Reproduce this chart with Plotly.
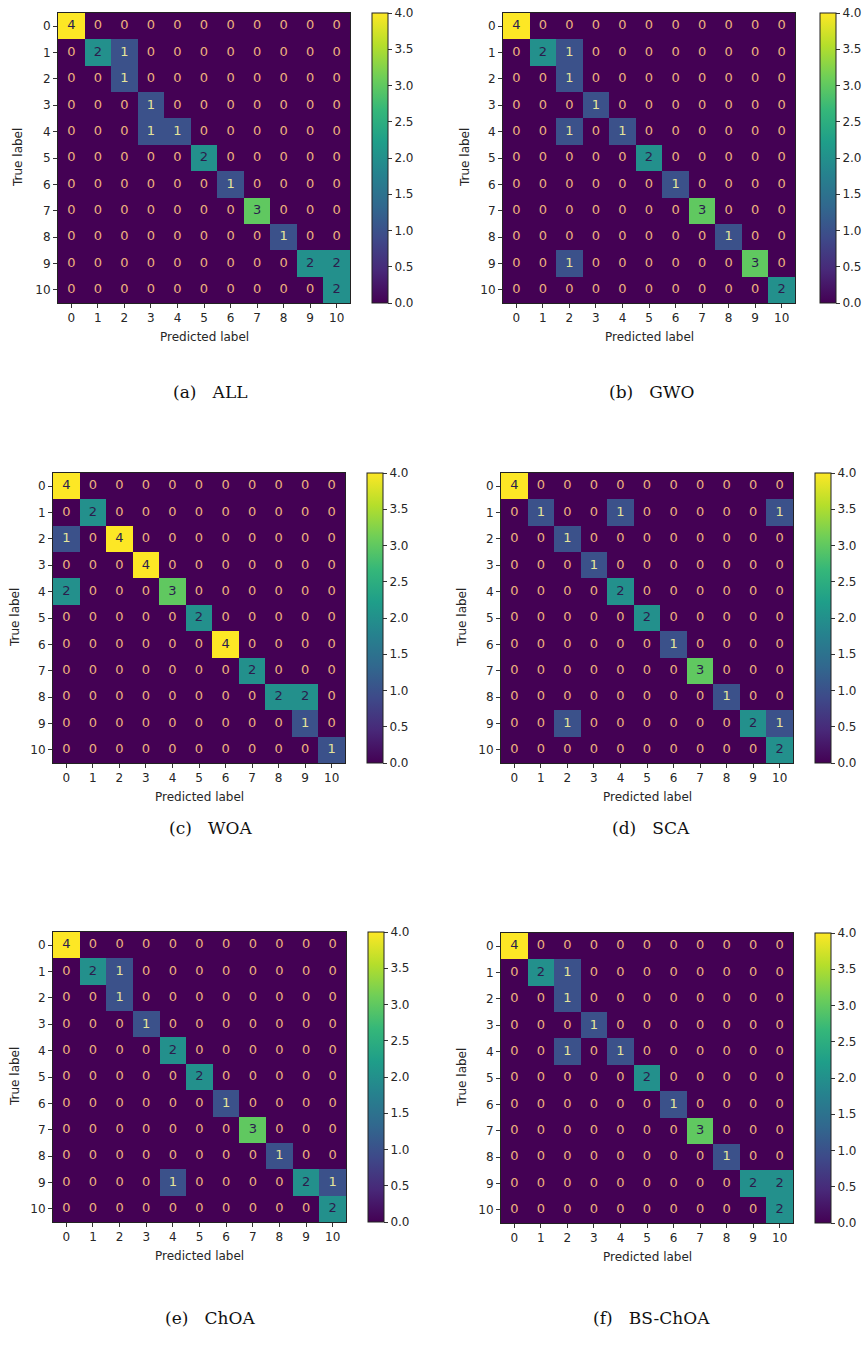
import plotly.graph_objects as go

labels = list(range(11))
tick_text = [str(v) for v in labels]
cbar_vals = [0, 0.5, 1, 1.5, 2, 2.5, 3, 3.5, 4]
cbar_text = ["0.0", "0.5", "1.0", "1.5", "2.0", "2.5", "3.0", "3.5", "4.0"]

captions = ["(a)\u00a0\u00a0\u00a0ALL", "(b)\u00a0\u00a0\u00a0GWO", "(c)\u00a0\u00a0\u00a0WOA",
            "(d)\u00a0\u00a0\u00a0SCA", "(e)\u00a0\u00a0\u00a0ChOA", "(f)\u00a0\u00a0\u00a0BS-ChOA"]

cm_all = [
    [4,0,0,0,0,0,0,0,0,0,0],
    [0,2,1,0,0,0,0,0,0,0,0],
    [0,0,1,0,0,0,0,0,0,0,0],
    [0,0,0,1,0,0,0,0,0,0,0],
    [0,0,0,1,1,0,0,0,0,0,0],
    [0,0,0,0,0,2,0,0,0,0,0],
    [0,0,0,0,0,0,1,0,0,0,0],
    [0,0,0,0,0,0,0,3,0,0,0],
    [0,0,0,0,0,0,0,0,1,0,0],
    [0,0,0,0,0,0,0,0,0,2,2],
    [0,0,0,0,0,0,0,0,0,0,2],
]
cm_gwo = [
    [4,0,0,0,0,0,0,0,0,0,0],
    [0,2,1,0,0,0,0,0,0,0,0],
    [0,0,1,0,0,0,0,0,0,0,0],
    [0,0,0,1,0,0,0,0,0,0,0],
    [0,0,1,0,1,0,0,0,0,0,0],
    [0,0,0,0,0,2,0,0,0,0,0],
    [0,0,0,0,0,0,1,0,0,0,0],
    [0,0,0,0,0,0,0,3,0,0,0],
    [0,0,0,0,0,0,0,0,1,0,0],
    [0,0,1,0,0,0,0,0,0,3,0],
    [0,0,0,0,0,0,0,0,0,0,2],
]
cm_woa = [
    [4,0,0,0,0,0,0,0,0,0,0],
    [0,2,0,0,0,0,0,0,0,0,0],
    [1,0,4,0,0,0,0,0,0,0,0],
    [0,0,0,4,0,0,0,0,0,0,0],
    [2,0,0,0,3,0,0,0,0,0,0],
    [0,0,0,0,0,2,0,0,0,0,0],
    [0,0,0,0,0,0,4,0,0,0,0],
    [0,0,0,0,0,0,0,2,0,0,0],
    [0,0,0,0,0,0,0,0,2,2,0],
    [0,0,0,0,0,0,0,0,0,1,0],
    [0,0,0,0,0,0,0,0,0,0,1],
]
cm_sca = [
    [4,0,0,0,0,0,0,0,0,0,0],
    [0,1,0,0,1,0,0,0,0,0,1],
    [0,0,1,0,0,0,0,0,0,0,0],
    [0,0,0,1,0,0,0,0,0,0,0],
    [0,0,0,0,2,0,0,0,0,0,0],
    [0,0,0,0,0,2,0,0,0,0,0],
    [0,0,0,0,0,0,1,0,0,0,0],
    [0,0,0,0,0,0,0,3,0,0,0],
    [0,0,0,0,0,0,0,0,1,0,0],
    [0,0,1,0,0,0,0,0,0,2,1],
    [0,0,0,0,0,0,0,0,0,0,2],
]
cm_choa = [
    [4,0,0,0,0,0,0,0,0,0,0],
    [0,2,1,0,0,0,0,0,0,0,0],
    [0,0,1,0,0,0,0,0,0,0,0],
    [0,0,0,1,0,0,0,0,0,0,0],
    [0,0,0,0,2,0,0,0,0,0,0],
    [0,0,0,0,0,2,0,0,0,0,0],
    [0,0,0,0,0,0,1,0,0,0,0],
    [0,0,0,0,0,0,0,3,0,0,0],
    [0,0,0,0,0,0,0,0,1,0,0],
    [0,0,0,0,1,0,0,0,0,2,1],
    [0,0,0,0,0,0,0,0,0,0,2],
]
cm_bschoa = [
    [4,0,0,0,0,0,0,0,0,0,0],
    [0,2,1,0,0,0,0,0,0,0,0],
    [0,0,1,0,0,0,0,0,0,0,0],
    [0,0,0,1,0,0,0,0,0,0,0],
    [0,0,1,0,1,0,0,0,0,0,0],
    [0,0,0,0,0,2,0,0,0,0,0],
    [0,0,0,0,0,0,1,0,0,0,0],
    [0,0,0,0,0,0,0,3,0,0,0],
    [0,0,0,0,0,0,0,0,1,0,0],
    [0,0,0,0,0,0,0,0,0,2,2],
    [0,0,0,0,0,0,0,0,0,0,2],
]
matrices = [cm_all, cm_gwo, cm_woa, cm_sca, cm_choa, cm_bschoa]

W, H = 864, 1354
# panel geometry in page pixels: heatmap left, top, right, bottom, colorbar left, ylabel x
panels = [
    (58, 13, 350, 303, 372, 18),
    (503, 13, 795, 303, 820, 465),
    (53, 473, 345, 763, 367, 15),
    (501, 473, 793, 763, 815, 462),
    (53, 932, 346, 1222, 368, 15),
    (501, 933, 793, 1223, 815, 462),
]
caption_y = [392, 392, 828, 828, 1318, 1318]
caption_x = [210, 651, 210, 651, 210, 651]

def px(x):
    return x / W

def py(y):
    return 1 - y / H

fig = go.Figure()
annotations = []
tickfont = dict(family="DejaVu Sans", size=12, color="#262626")

for i, (cm, (l, t, r, b, cbl, ylx)) in enumerate(zip(matrices, panels)):
    n = i + 1
    xa = "x" if n == 1 else f"x{n}"
    ya = "y" if n == 1 else f"y{n}"
    fig.add_trace(go.Heatmap(
        z=cm, x=labels, y=labels, zmin=0, zmax=4, colorscale="Viridis",
        xaxis=xa, yaxis=ya, hoverinfo="skip",
        colorbar=dict(
            x=px(cbl), xanchor="left", xpad=0, ypad=0,
            y=py((t + b) / 2), yanchor="middle",
            len=b - t, lenmode="pixels", thickness=16, thicknessmode="pixels",
            outlinewidth=1, outlinecolor="#222",
            tickmode="array", tickvals=cbar_vals, ticktext=cbar_text,
            ticks="outside", ticklen=4, tickcolor="#333", tickfont=tickfont,
        ),
    ))
    xs, ys, txt, cols = [], [], [], []
    for r_i, row in enumerate(cm):
        for c_i, v in enumerate(row):
            xs.append(labels[c_i])
            ys.append(labels[r_i])
            txt.append(str(v))
            if v >= 2:
                cols.append("#2b1d4d")
            elif v == 0:
                cols.append("#eeb27e")
            else:
                cols.append("#e6e49a")
    fig.add_trace(go.Scatter(
        x=xs, y=ys, text=txt, mode="text", xaxis=xa, yaxis=ya,
        textfont=dict(family="DejaVu Sans", size=13, color=cols),
        hoverinfo="skip", showlegend=False,
    ))
    axis_common = dict(showline=True, mirror=True, linecolor="#222", linewidth=1,
                       ticks="outside", ticklen=4, tickcolor="#333", tickfont=tickfont,
                       showgrid=False, zeroline=False, tickmode="array",
                       tickvals=labels, ticktext=tick_text, fixedrange=True)
    fig.layout[f"xaxis{'' if n == 1 else n}"] = dict(
        domain=[px(l), px(r)], anchor=ya, range=[-0.5, 10.5], **axis_common)
    fig.layout[f"yaxis{'' if n == 1 else n}"] = dict(
        domain=[py(b), py(t)], anchor=xa, range=[10.5, -0.5], **axis_common)
    annotations.append(dict(
        text="Predicted label", x=px((l + r) / 2), y=py(b + 34), xref="paper", yref="paper",
        showarrow=False, xanchor="center", yanchor="middle",
        font=dict(family="DejaVu Sans", size=12, color="#262626")))
    annotations.append(dict(
        text="True label", x=px(ylx), y=py((t + b) / 2), xref="paper", yref="paper",
        showarrow=False, xanchor="center", yanchor="middle", textangle=-90,
        font=dict(family="DejaVu Sans", size=12, color="#262626")))
    annotations.append(dict(
        text=captions[i], x=px(caption_x[i]), y=py(caption_y[i]), xref="paper", yref="paper",
        showarrow=False, xanchor="center", yanchor="middle",
        font=dict(family="DejaVu Serif", size=17, color="#111")))

fig.update_layout(
    width=W, height=H, margin=dict(l=0, r=0, t=0, b=0),
    paper_bgcolor="white", plot_bgcolor="white",
    showlegend=False, annotations=annotations,
)

# remove the browser's default body margin so the figure fills the window exactly
fig.write_html(
    "out.html",
    config={"displayModeBar": False},
    post_script="document.body.style.margin='0';document.body.style.overflow='hidden';",
)
